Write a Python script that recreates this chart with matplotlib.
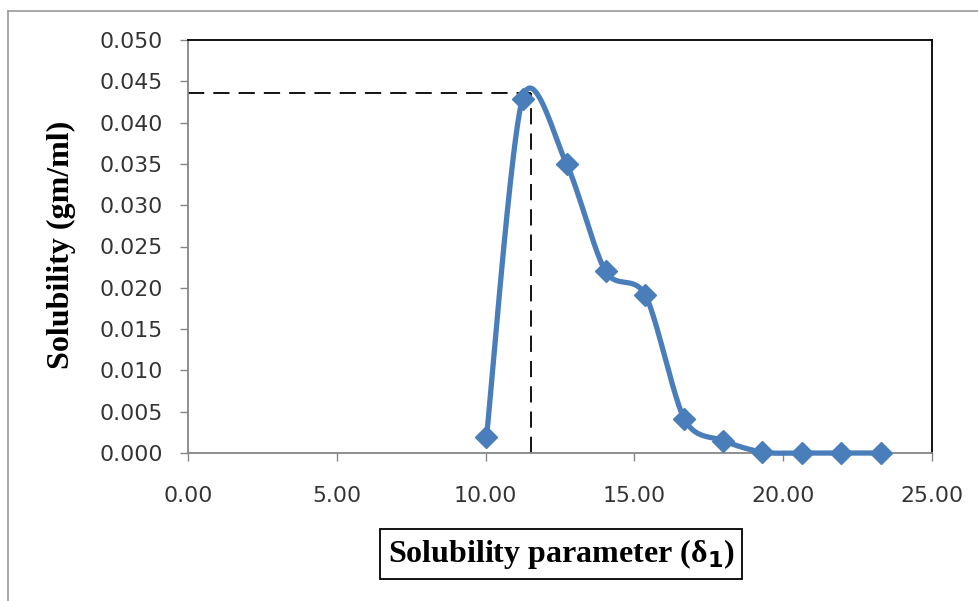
import numpy as np
import matplotlib
matplotlib.use("Agg")
import matplotlib.pyplot as plt
from matplotlib.lines import Line2D

# Data
delta = [10.03, 11.24, 12.72, 14.03, 15.37, 16.68, 17.99, 19.30, 20.64, 21.95, 23.29]
solubility = [0.0019, 0.0429, 0.0350, 0.0220, 0.0191, 0.0041, 0.0015, 0.0001, 0.0000, 0.0000, 0.0000]
peak_x = 11.51
peak_y = 0.0436
xticks = [0, 5, 10, 15, 20, 25]
yticks = [0.000, 0.005, 0.010, 0.015, 0.020, 0.025, 0.030, 0.035, 0.040, 0.045, 0.050]

def excel_smooth(x, y, k=7.0, n=40):
    x = np.asarray(x, float); y = np.asarray(y, float)
    px = np.concatenate([[x[0]], x, [x[-1]]])
    py = np.concatenate([[y[0]], y, [y[-1]]])
    xs, ys = [], []
    for i in range(1, len(px) - 2):
        p0 = np.array([px[i - 1], py[i - 1]]); p1 = np.array([px[i], py[i]])
        p2 = np.array([px[i + 1], py[i + 1]]); p3 = np.array([px[i + 2], py[i + 2]])
        c1 = p1 + (p2 - p0) / k
        c2 = p2 - (p3 - p1) / k
        t = np.linspace(0, 1, n)[:, None]
        b = (1 - t) ** 3 * p1 + 3 * (1 - t) ** 2 * t * c1 + 3 * (1 - t) * t ** 2 * c2 + t ** 3 * p2
        xs.extend(b[:, 0]); ys.extend(b[:, 1])
    return np.array(xs), np.array(ys)

fig = plt.figure(figsize=(9.79, 6.01), dpi=100)
W, H = 979, 601
ax = fig.add_axes([188 / W, 1 - 453 / H, (932 - 188) / W, (453 - 40) / H])

# outer frame (left & top visible)
fig.add_artist(Line2D([8 / W, 8 / W], [0, 1 - 11 / H], transform=fig.transFigure, color="#a0a0a0", lw=1.3))
fig.add_artist(Line2D([8 / W, 1], [1 - 11 / H, 1 - 11 / H], transform=fig.transFigure, color="#a0a0a0", lw=1.3))

sx, sy = excel_smooth(delta, solubility)
ax.plot(sx, sy, color="#4a7ebb", lw=3.8, solid_capstyle="round", solid_joinstyle="round", zorder=3, clip_on=False)
ax.plot(delta, solubility, linestyle="none", marker="D", markersize=11, color="#4a7ebb", zorder=4, clip_on=False)

ax.plot([0, peak_x], [peak_y, peak_y], color="black", lw=1.3, dashes=(9, 5), zorder=2)
ax.plot([peak_x, peak_x], [0, peak_y], color="black", lw=1.3, dashes=(9, 5), zorder=2)

ax.set_xlim(0, 25)
ax.set_ylim(0, 0.05)
ax.set_xticks(xticks)
ax.set_yticks(yticks)
ax.set_xticklabels([f"{v:.2f}" for v in xticks])
ax.set_yticklabels([f"{v:.3f}" for v in yticks])
for lab in ax.get_xticklabels() + ax.get_yticklabels():
    lab.set_fontfamily("DejaVu Sans")
    lab.set_fontsize(15.8)
    lab.set_color("#333333")

ax.spines["left"].set_color("#868686")
ax.spines["bottom"].set_color("#868686")
ax.spines["top"].set_color("black")
ax.spines["right"].set_color("black")
for s in ax.spines.values():
    s.set_linewidth(1.3)
ax.tick_params(axis="both", direction="out", length=6, width=1.0, color="#868686")
ax.tick_params(axis="y", pad=12)
ax.tick_params(axis="x", pad=18)

fig.text(61 / W, 1 - 245 / H, "Solubility (gm/ml)", rotation=90, ha="center", va="center",
         fontfamily="Liberation Serif", fontweight="bold", fontsize=23)

fig.text(561 / W, 1 - 554 / H, r"Solubility parameter (δ$_\mathbf{1}$)", ha="center", va="center",
         fontfamily="Liberation Serif", fontweight="bold", fontsize=23,
         bbox=dict(boxstyle="square,pad=0.25", fc="white", ec="black", lw=1.3))

fig.savefig("out.png", dpi=100)
